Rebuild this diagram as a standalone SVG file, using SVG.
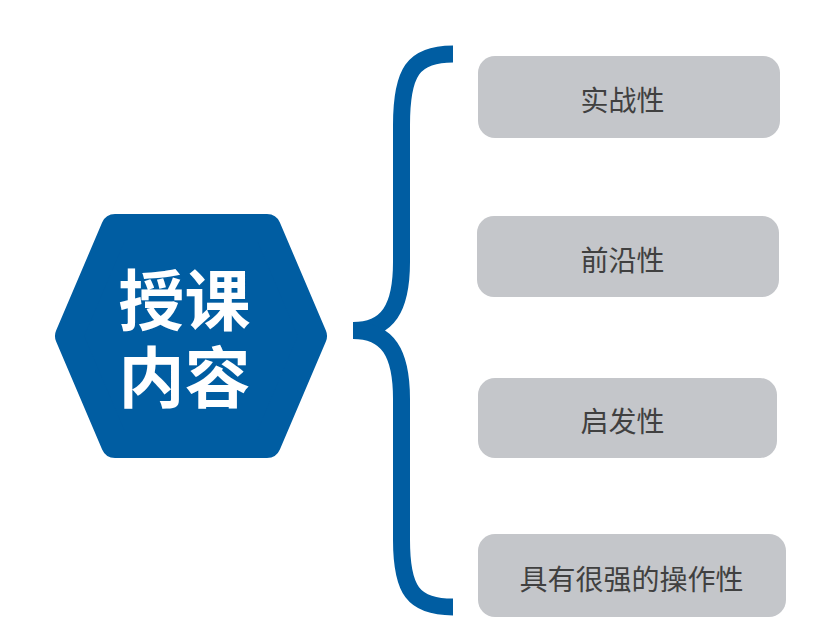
<svg xmlns="http://www.w3.org/2000/svg" width="815" height="635" viewBox="0 0 815 635">
<style>
.box{fill:#C4C6CA}
.lbl{font-family:"Noto Sans CJK SC","Noto Sans",sans-serif;font-size:28px;fill:#404040;text-anchor:middle}
.hex{fill:#005DA2;stroke:#005DA2;stroke-width:28;stroke-linejoin:round}
.title{font-family:"Noto Sans CJK SC","Noto Sans",sans-serif;font-size:66px;font-weight:bold;fill:#FFFFFF;text-anchor:middle}
.brace{fill:none;stroke:#005DA2;stroke-width:17;stroke-linecap:butt}
</style>
<rect width="815" height="635" fill="#FFFFFF"/>
<g id="center">
<polygon class="hex" points="69,336 115,228 267,228 313,336 267,444 115,444"/>
<text class="title"><tspan x="184.5" y="324.5">授课</tspan><tspan x="184.5" y="402">内容</tspan></text>
</g>
<g id="connectors">
<path class="brace" d="M453,54 C413,54 401.5,72 401.5,125 L401.5,262 C401.5,308 388,330.5 353,330.5"/>
<path class="brace" d="M353,330.5 C388,330.5 401.5,353 401.5,399 L401.5,540 C401.5,590 413,607 453,607"/>
</g>
<g id="node1">
<rect class="box" x="478" y="56" width="302" height="82" rx="17"/>
<text class="lbl" x="622.5" y="111">实战性</text>
</g>
<g id="node2">
<rect class="box" x="477" y="216" width="302" height="81" rx="17"/>
<text class="lbl" x="622.5" y="270.5">前沿性</text>
</g>
<g id="node3">
<rect class="box" x="478" y="378" width="299" height="80" rx="17"/>
<text class="lbl" x="622.5" y="432">启发性</text>
</g>
<g id="node4">
<rect class="box" x="478" y="534" width="308" height="83" rx="17"/>
<text class="lbl" x="631.5" y="590">具有很强的操作性</text>
</g>
</svg>
